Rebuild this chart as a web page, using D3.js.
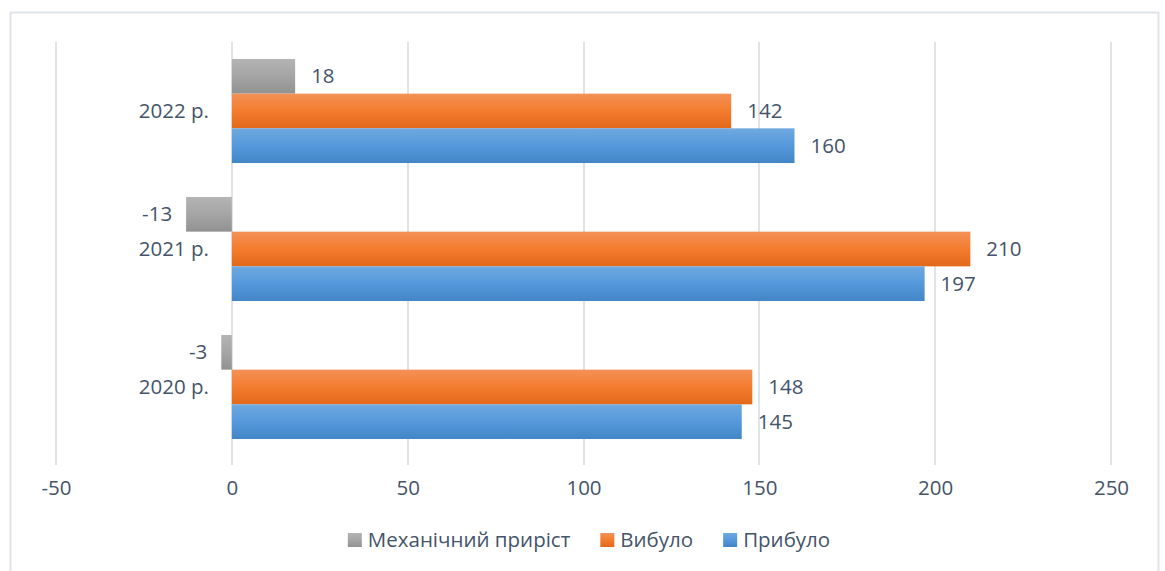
<!DOCTYPE html>
<html><head><meta charset="utf-8">
<script src="https://cdn.jsdelivr.net/npm/d3@7"></script>
<style>body{margin:0;background:#fff}svg{display:block}</style>
</head><body>
<svg id="c" width="1165" height="571"></svg>
<script>
const categories = ["2022 р.", "2021 р.", "2020 р."];
const seriesNames = ["Механічний приріст", "Вибуло", "Прибуло"];
const mechanical = [18, -13, -3];
const departed = [142, 210, 148];
const arrived = [160, 197, 145];
const tickValues = [-50, 0, 50, 100, 150, 200, 250];

const seriesValues = [mechanical, departed, arrived];
const colors = [
  ["#b4b4b4", "#a5a5a5", "#919191"],
  ["#f39157", "#f47c2e", "#e2691a"],
  ["#6fa9df", "#5599dc", "#4386c7"]
];
const textColor = "#44546A";
const font = "'Open Sans', sans-serif";
const fs = 20.5;

const svg = d3.select("#c");
const defs = svg.append("defs");
colors.forEach((c, i) => {
  const g = defs.append("linearGradient").attr("id", "g" + i)
    .attr("x1", 0).attr("y1", 0).attr("x2", 0).attr("y2", 1);
  g.append("stop").attr("offset", "0%").attr("stop-color", c[0]);
  g.append("stop").attr("offset", "50%").attr("stop-color", c[1]);
  g.append("stop").attr("offset", "100%").attr("stop-color", c[2]);
});

// chart border (no bottom edge visible)
svg.append("path").attr("d", "M10.5,571 V12.5 H1158.5 V571")
  .attr("fill", "none").attr("stroke", "#dfe3ea").attr("stroke-width", 2);

const x = d3.scaleLinear().domain([-50, 250]).range([56, 1111]);
const y = d3.scaleBand().domain(categories).range([42, 456]).paddingInner(0.246).paddingOuter(0.123);
const ys = d3.scaleBand().domain(seriesNames).range([0, y.bandwidth()]);

// gridlines
svg.append("g").selectAll("line").data(tickValues).join("line")
  .attr("x1", d => Math.round(x(d))).attr("x2", d => Math.round(x(d)))
  .attr("y1", 42).attr("y2", 465)
  .attr("stroke", "#e0e3e8").attr("stroke-width", 2);

// x axis labels
const xAxis = d3.axisBottom(x).tickValues(tickValues).tickSize(0).tickPadding(0).tickFormat(d => String(d));
const gx = svg.append("g").attr("transform", "translate(0,480)").call(xAxis);
gx.select(".domain").remove();
gx.selectAll("text").attr("font-family", font).attr("font-size", fs)
  .attr("fill", textColor).attr("dy", "0.75em");

// y axis labels
const yAxis = d3.axisLeft(y).tickSize(0).tickPadding(0);
const gy = svg.append("g").attr("transform", "translate(209,0)").call(yAxis);
gy.select(".domain").remove();
gy.selectAll("text").attr("font-family", font).attr("font-size", fs)
  .attr("fill", textColor);

// bars
const rows = [];
categories.forEach((c, ci) => seriesNames.forEach((s, si) => rows.push({c, s, si, v: seriesValues[si][ci]})));

svg.append("g").selectAll("rect").data(rows).join("rect")
  .attr("x", d => x(Math.min(0, d.v)))
  .attr("width", d => Math.abs(x(d.v) - x(0)))
  .attr("y", d => y(d.c) + ys(d.s))
  .attr("height", ys.bandwidth())
  .attr("fill", d => `url(#g${d.si})`);

svg.append("g").selectAll("text").data(rows).join("text")
  .attr("x", d => d.v >= 0 ? x(d.v) + 16 : x(d.v) - 14)
  .attr("y", d => y(d.c) + ys(d.s) + ys.bandwidth() / 2)
  .attr("dy", "0.35em")
  .attr("text-anchor", d => d.v >= 0 ? "start" : "end")
  .attr("font-family", font).attr("font-size", fs).attr("fill", textColor)
  .text(d => d.v);

// legend
const lg = svg.append("g");
let cx = 0;
seriesNames.forEach((s, i) => {
  const g = lg.append("g");
  g.append("rect").attr("x", cx).attr("y", -7).attr("width", 14).attr("height", 14).attr("fill", `url(#g${i})`);
  const t = g.append("text").attr("x", cx + 20).attr("y", 0).attr("dy", "0.35em")
    .attr("font-family", font).attr("font-size", fs).attr("fill", textColor).text(s);
  const w = t.node().getComputedTextLength();
  cx += 20 + w + 30;
});
const totalW = cx - 30;
lg.attr("transform", `translate(${589 - totalW / 2},540)`);
</script>
</body></html>
